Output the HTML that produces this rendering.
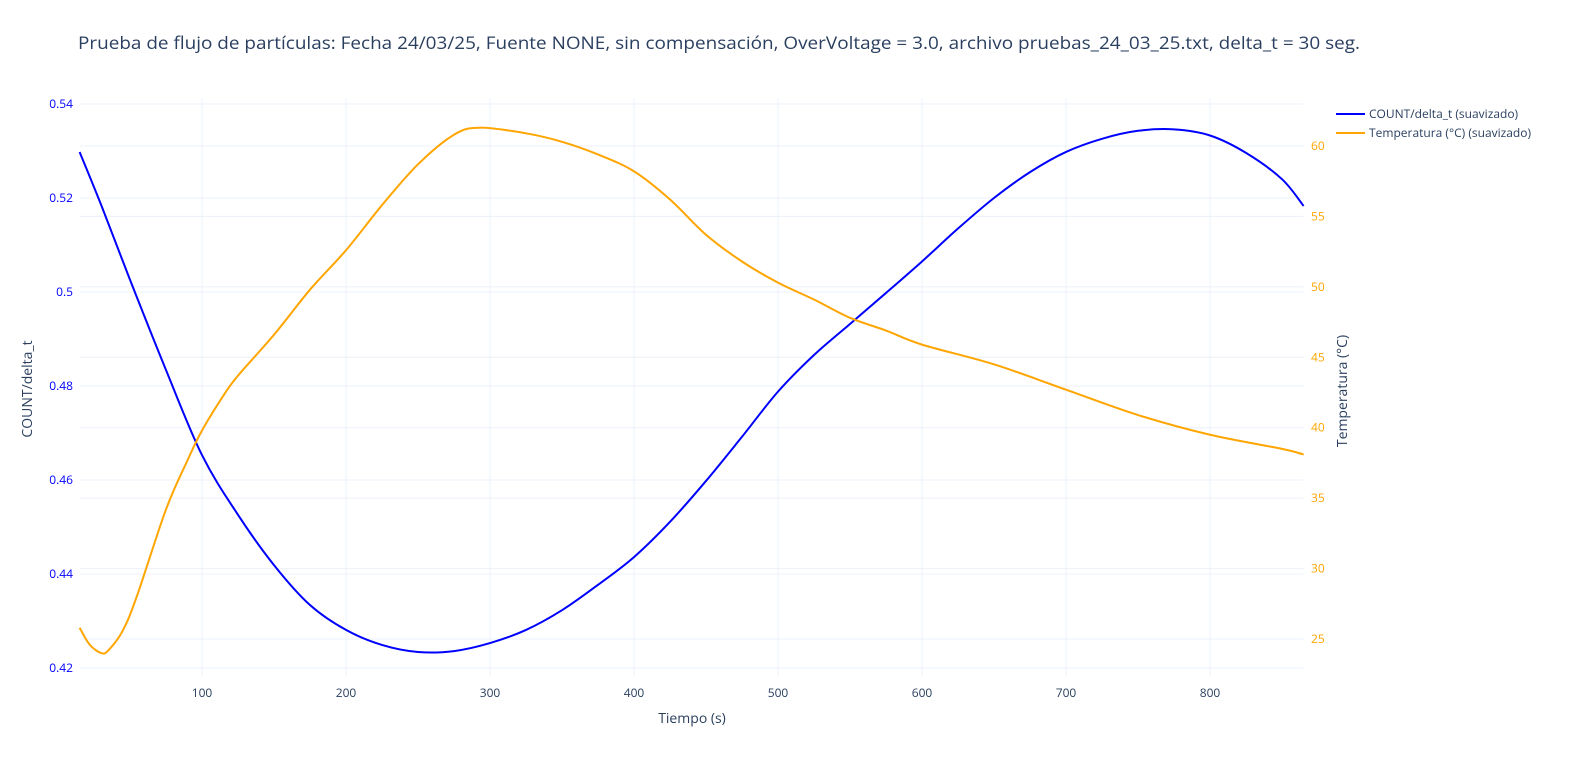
<!DOCTYPE html>
<html><head><meta charset="utf-8"><style>
body{margin:0;background:#fff;}
svg{font-family:"Open Sans","Liberation Sans",sans-serif;}
</style></head><body>
<svg id="chart" width="1576" height="766"></svg>
<script>
const times=[15,30,50,75,100,125,150,175,200,225,250,275,300,325,350,375,400,425,450,475,500,525,550,575,600,625,650,675,700,725,750,775,800,825,850,865];
const countVals=[0.5298,0.5185,0.5026,0.4834,0.4653,0.4526,0.4419,0.4334,0.4281,0.4249,0.4234,0.4236,0.4253,0.4281,0.4323,0.4377,0.4436,0.4511,0.4598,0.4692,0.4788,0.4866,0.4932,0.4998,0.5065,0.5135,0.5200,0.5255,0.5298,0.5326,0.5343,0.5346,0.5333,0.5296,0.5240,0.5183];
const tempTimes=[15,22,30,35,45,55,75,90,100,115,125,150,175,200,225,250,275,293,325,350,375,400,425,450,475,500,525,550,575,600,650,700,750,800,850,865];
const tempVals=[25.8,24.6,24.0,24.2,25.6,28.1,34.2,37.7,39.8,42.3,43.7,46.6,49.8,52.6,55.8,58.7,60.8,61.3,60.9,60.3,59.4,58.2,56.2,53.7,51.8,50.3,49.1,47.8,46.9,45.9,44.5,42.7,40.9,39.5,38.5,38.1];
const xTicks=[100,200,300,400,500,600,700,800];
const yLeftTicks=[0.42,0.44,0.46,0.48,0.5,0.52,0.54];
const yRightTicks=[25,30,35,40,45,50,55,60];

const xs=t=>202+(t-100)*1.44;
const L=xs(15.3),R=xs(865),T=98,B=676;
const yl=v=>104+(0.54-v)*4700;
const yr=v=>146+(60-v)*14.086;
const svg=document.getElementById('chart');
const NS='http://www.w3.org/2000/svg';
function mk(tag,attrs,txt){const e=document.createElementNS(NS,tag);for(const k in attrs)e.setAttribute(k,attrs[k]);if(txt!==undefined)e.textContent=txt;svg.appendChild(e);return e;}
function spline(pts){let d='M'+pts[0][0]+','+pts[0][1];for(let i=0;i<pts.length-1;i++){const p0=pts[i-1]||pts[i],p1=pts[i],p2=pts[i+1],p3=pts[i+2]||p2;const c1=[p1[0]+(p2[0]-p0[0])/6,p1[1]+(p2[1]-p0[1])/6],c2=[p2[0]-(p3[0]-p1[0])/6,p2[1]-(p3[1]-p1[1])/6];d+=' C'+c1+' '+c2+' '+p2;}return d;}

xTicks.forEach(t=>{
 const g=mk('line',{x1:xs(t),x2:xs(t),y1:T,y2:B,stroke:'#ebf0f8'});
 
 
 const lb=mk('text',{x:xs(t),y:697,'text-anchor':'middle','font-size':12,fill:'#2a3f5f'},String(t));
 
 
});
yLeftTicks.forEach(v=>{
 const g=mk('line',{x1:L,x2:R,y1:yl(v),y2:yl(v),stroke:'#ebf0f8'});
 
 
 const lb=mk('text',{x:73,y:yl(v)+4,'text-anchor':'end','font-size':12,fill:'#0000ff'},String(v));
 
 
});
yRightTicks.forEach(v=>{
 const g=mk('line',{x1:L,x2:R,y1:yr(v),y2:yr(v),stroke:'#ebf0f8'});
 
 
 const lb=mk('text',{x:1311,y:yr(v)+4,'text-anchor':'start','font-size':12,fill:'#ffa500'},String(v));
 
 
});
const p1=mk('path',{d:spline(times.map((t,i)=>[xs(t),yl(countVals[i])])),fill:'none',stroke:'#0000ff','stroke-width':2});


const p2=mk('path',{d:spline(tempTimes.map((t,i)=>[xs(t),yr(tempVals[i])])),fill:'none',stroke:'#ffa500','stroke-width':2});



const title=mk('text',{x:78,y:49,'font-size':17,fill:'#2a3f5f',textLength:1282,lengthAdjust:'spacingAndGlyphs'},'Prueba de flujo de partículas: Fecha 24/03/25, Fuente NONE, sin compensación, OverVoltage = 3.0, archivo pruebas_24_03_25.txt, delta_t = 30 seg.');


const xt=mk('text',{x:692,y:723,'text-anchor':'middle','font-size':14,fill:'#2a3f5f'},'Tiempo (s)');


const ylt=mk('text',{x:0,y:0,'text-anchor':'middle','font-size':14,fill:'#2a3f5f',transform:'translate(32,389) rotate(-90)'},'COUNT/delta_t');


const yrt=mk('text',{x:0,y:0,'text-anchor':'middle','font-size':14,fill:'#2a3f5f',transform:'translate(1347,391) rotate(-90)'},'Temperatura (°C)');



const l1=mk('line',{x1:1336,x2:1365,y1:114,y2:114,stroke:'#0000ff','stroke-width':2});


const lt1=mk('text',{x:1369,y:118,'font-size':12,fill:'#2a3f5f'},'COUNT/delta_t (suavizado)');


const l2=mk('line',{x1:1336,x2:1365,y1:133,y2:133,stroke:'#ffa500','stroke-width':2});


const lt2=mk('text',{x:1369,y:137,'font-size':12,fill:'#2a3f5f'},'Temperatura (°C) (suavizado)');


</script>
</body></html>
